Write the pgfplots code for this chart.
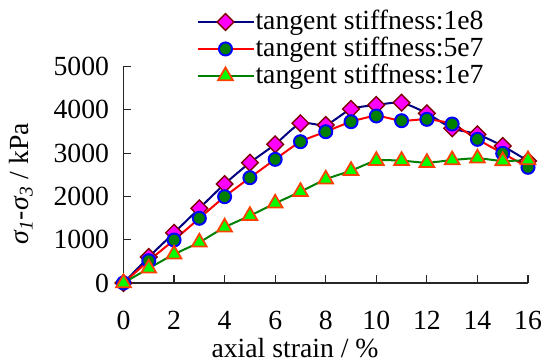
\documentclass[border=0pt]{standalone}
\usepackage{fontspec}
\setmainfont{Liberation Serif}
\usepackage{pgfplots}
\pgfplotsset{compat=1.18}
\definecolor{navyc}{RGB}{0,0,128}
\definecolor{darkredc}{RGB}{128,0,0}
\definecolor{magc}{RGB}{255,0,255}
\definecolor{greenc}{RGB}{0,128,0}
\definecolor{limec}{RGB}{0,255,0}
\definecolor{orc}{RGB}{255,64,0}
\newcommand{\bigf}{\fontsize{27.7bp}{30bp}\selectfont}
\begin{document}
\begin{tikzpicture}
\begin{axis}[
  name=ax,
  scale only axis,
  width=404.5bp, height=216.5bp,
  xmin=0, xmax=16, ymin=0, ymax=5000,
  axis x line*=bottom, axis y line*=left,
  axis line style={line width=1.2bp, black!85},
  tick style={line width=1.2bp, black!85},
  tick align=inside,
  major tick length=8bp,
  xtick={0,2,...,16},
  ytick={0,1000,...,5000},
  scaled y ticks=false,
  /pgf/number format/set thousands separator={},
  /pgf/number format/assume math mode=true,
  tick label style={font=\bigf},
  xticklabel style={yshift=-25bp, text depth=0pt},
  yticklabel style={xshift=-11bp},
  label style={font=\bigf},
  xlabel={axial strain / \%},
  xlabel style={at={(axis description cs:0.424,-0.346)}, anchor=base, inner sep=0pt},
  ylabel={\textit{σ}\textsubscript{\textit{1}}-\textit{σ}\textsubscript{\textit{3}} / kPa},
  ylabel style={at={(axis description cs:-0.2534,0.457)}, anchor=center},
  clip=false,
  legend cell align=left,
  legend style={draw=none, fill=none, font=\bigf, at={(axis description cs:0.18,1.269)}, anchor=north west, row sep=0pt, inner sep=0pt,
    nodes={text height=20bp, text depth=5bp, inner sep=1bp}},
  legend image code/.code={\draw[#1, mark repeat=2, mark phase=2] plot coordinates {(0bp,0bp) (28bp,0bp) (56bp,0bp)};},
]
\addplot[navyc, line width=2bp, smooth, tension=0.4, mark=square*, mark size=5.9bp,
  mark options={rotate=45, fill=magc, draw=darkredc, line width=1.4bp}]
coordinates {(0,0) (1,600) (2,1160) (3,1725) (4,2286) (5,2778) (6,3203) (7,3688) (8,3650) (9,4018) (10,4111) (11,4164) (12,3919) (13,3573) (14,3434) (15,3164) (16,2818)};
\addlegendentry{tangent stiffness:1e8}
\addplot[red, line width=2bp, smooth, tension=0.4, mark=*, mark size=6.5bp,
  mark options={fill=greenc, draw=blue, line width=2bp}]
coordinates {(0,0) (1,515) (2,993) (3,1494) (4,1993) (5,2432) (6,2856) (7,3263) (8,3494) (9,3725) (10,3857) (11,3748) (12,3780) (13,3672) (14,3318) (15,2995) (16,2672)};
\addlegendentry{tangent stiffness:5e7}
\addplot[greenc, line width=2bp, smooth, tension=0.4, mark=triangle*, mark size=8.5bp,
  mark options={fill=limec, draw=orc, line width=1.8bp}]
coordinates {(0,0) (1,339) (2,663) (3,940) (4,1286) (5,1554) (6,1840) (7,2109) (8,2395) (9,2594) (10,2825) (11,2825) (12,2778) (13,2840) (14,2880) (15,2818) (16,2840)};
\addlegendentry{tangent stiffness:1e7}
\end{axis}
\pgfresetboundingbox
\path ([shift={(-123.5bp,-81bp)}]ax.south west) rectangle ([shift={(420.5bp,283bp)}]ax.south west);
\end{tikzpicture}
\end{document}
